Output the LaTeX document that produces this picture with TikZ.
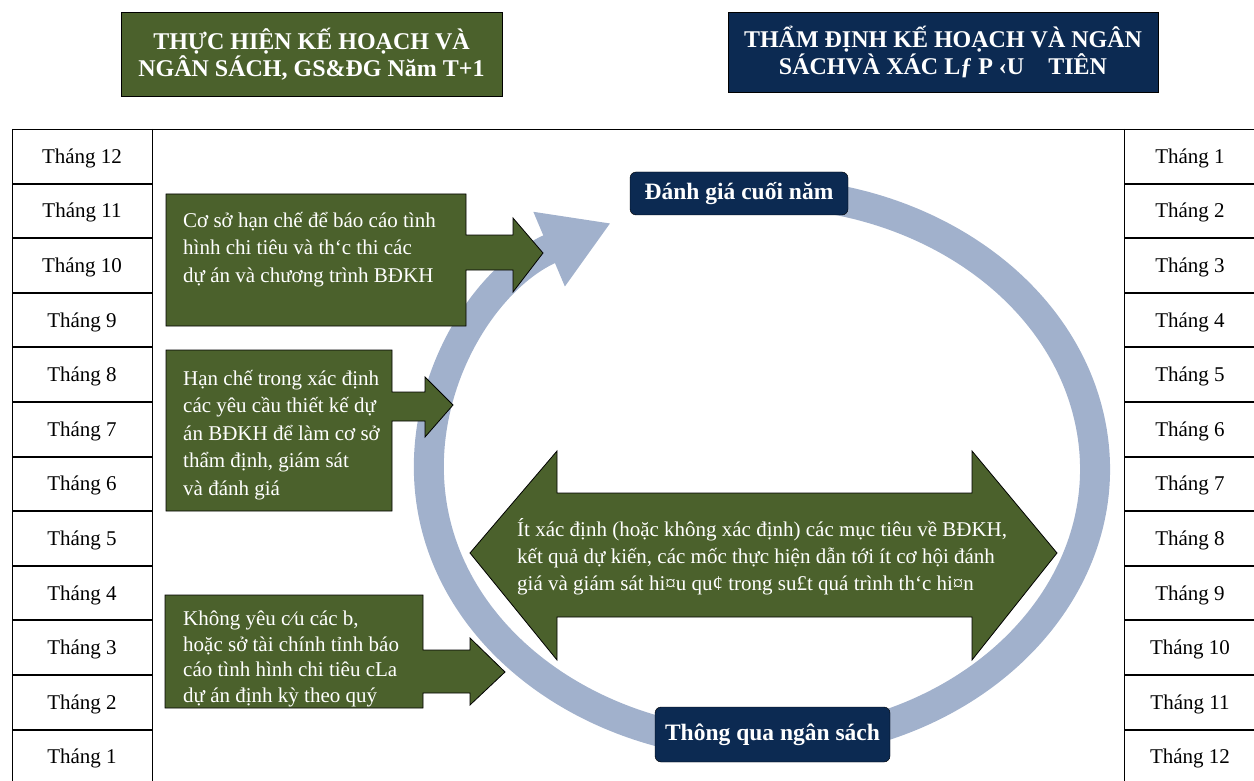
\documentclass[tikz,border=0pt]{standalone}
\usepackage{fontspec}
\setmainfont{Liberation Serif}
\usetikzlibrary{arrows.meta,calc}

\definecolor{olivebox}{HTML}{4B612C}
\definecolor{navybox}{HTML}{0C2A52}
\definecolor{ringblue}{HTML}{A1B1CC}

\begin{document}
\begin{tikzpicture}[
x=1pt,y=1pt,
month/.style={font=\fontsize{21}{25}\selectfont},
header/.style={draw=black,fill=#1,text=white,align=center,inner sep=0pt,font=\fontsize{24}{27}\selectfont\bfseries},
stage/.style={draw=black,rounded corners=6pt,fill=navybox,text=white,inner sep=0pt,font=\fontsize{23.5}{27}\selectfont\bfseries},
note/.style={text=white,align=left,anchor=north west,inner sep=0pt,font=\fontsize{21}{27.5}\selectfont},
callout/.style={draw=black,fill=olivebox,line width=0.8pt},
ring/.style={line width=30pt,ringblue,-{Triangle[length=67pt,width=76pt]}}]

\useasboundingbox (0,0) rectangle (1254,-781);
\clip (0,0) rectangle (1254,-781);

% month table
\draw[line width=0.8pt] (12,-129) -- (1260,-129);
\draw[line width=0.8pt] (12,-129) -- (12,-790) (152,-129) -- (152,-790) (1124,-129) -- (1124,-790);
\foreach \k in {1,...,12}{
  \draw[line width=2pt] (12,{-129-54.6*\k}) -- (152,{-129-54.6*\k});
  \draw[line width=2pt] (1124,{-129-54.6*\k}) -- (1260,{-129-54.6*\k});
}
\foreach \m in {1,...,12}{
  \node[month] (left\m) at (82,{-131-54.6*(12.5-\m)}) {Tháng \m};
  \node[month] (right\m) at (1190,{-131-54.6*(\m-0.5)}) {Tháng \m};
}

% headers
\node[header=olivebox,minimum width=381pt,minimum height=84pt] (impl) at (311.5,-54)
  {THỰC HIỆN KẾ HOẠCH VÀ\\NGÂN SÁCH, GS\&ĐG Năm T+1};
\node[header=navybox,minimum width=430pt,minimum height=80pt] (appr) at (943,-52)
  {THẨM ĐỊNH KẾ HOẠCH VÀ NGÂN\\SÁCHVÀ XÁC Lƒ P ‹U\quad TIÊN};

% cycle
\coordinate (rc) at (762,-469);
\draw[ring] ($(rc)+(100:333pt and 276pt)$) arc[start angle=100,end angle=-243,x radius=333pt,y radius=276pt];

% callouts
\draw[callout] (166,-194) -- (466,-194) -- (466,-235) -- (513,-235) -- (513,-218) -- (543,-253)
  -- (513,-292) -- (513,-270) -- (466,-270) -- (466,-326) -- (166,-326) -- cycle;
\node[note] (basis) at (183,-212) {Cơ sở hạn chế để báo cáo tình\\hình chi tiêu và th‘c thi các\\dự án và chương trình BĐKH};

\draw[callout] (166,-350) -- (392,-350) -- (392,-392) -- (425,-392) -- (425,-377) -- (453,-405)
  -- (425,-437) -- (425,-421) -- (392,-421) -- (392,-511) -- (166,-511) -- cycle;
\node[note] (design) at (183,-370) {Hạn chế trong xác định\\các yêu cầu thiết kế dự\\án BĐKH để làm cơ sở\\thẩm định, giám sát\\và đánh giá};

\draw[callout] (165,-595) -- (423,-595) -- (423,-650) -- (470,-650) -- (470,-638) -- (505,-672)
  -- (470,-705) -- (470,-693) -- (423,-693) -- (423,-708) -- (165,-708) -- cycle;
\node[note,font=\fontsize{21}{25.5}\selectfont] (report) at (183,-611) {Không yêu c⁄u các b,\\hoặc sở tài chính tỉnh báo\\cáo tình hình chi tiêu cLa\\dự án định kỳ theo quý};

\draw[callout] (470,-553) -- (557,-451) -- (557,-493) -- (972,-493) -- (972,-451) -- (1057,-553)
  -- (972,-660) -- (972,-617) -- (557,-617) -- (557,-660) -- cycle;
\node[note,font=\fontsize{21}{27}\selectfont] (targets) at (517,-518) {Ít xác định (hoặc không xác định) các mục tiêu về BĐKH,\\kết quả dự kiến, các mốc thực hiện dẫn tới ít cơ hội đánh\\giá và giám sát hi¤u qu¢ trong su£t quá trình th‘c hi¤n};

% stages
\node[stage,minimum width=218pt,minimum height=43pt] (review) at (739,-193.5) {Đánh giá cuối năm};
\node[stage,minimum width=235pt,minimum height=55pt] (budget) at (772.5,-734.5) {Thông qua ngân sách};
\end{tikzpicture}
\end{document}
